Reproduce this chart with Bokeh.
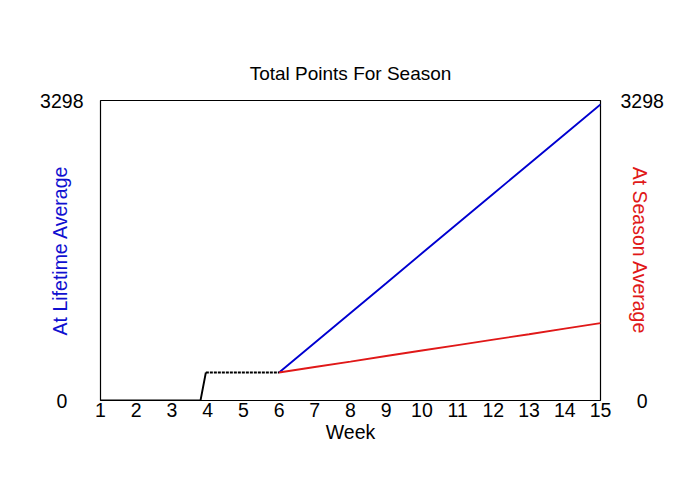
from bokeh.plotting import figure
from bokeh.models import LinearAxis, FixedTicker, Range1d
from bokeh.embed import file_html
from bokeh.resources import INLINE

# Data
actual_weeks = [1, 2, 3, 3.8, 3.95]
actual_points = [0, 0, 0, 0, 308]
flat_weeks = [3.95, 4, 5, 6]
flat_points = [308, 308, 308, 308]
proj_weeks = [6, 7, 8, 9, 10, 11, 12, 13, 14, 15]
lifetime_avg = [308, 635, 963, 1290, 1618, 1945, 2273, 2600, 2927, 3255]
season_avg = [308, 368, 428, 489, 549, 609, 669, 729, 790, 850]
y_max = 3298
x_ticks = list(range(1, 16))
y_ticks = [0, 3298]
y_tick_labels = ["0", "3298"]

FONT = "Liberation Sans"

p = figure(output_backend="svg", toolbar_location=None,
           frame_width=500, frame_height=300,
           min_border_left=100, min_border_right=100,
           min_border_top=100, min_border_bottom=100,
           x_range=Range1d(1, 15), y_range=Range1d(0, y_max),
           title="Total Points For Season")
p.background_fill_color = "white"
p.border_fill_color = "white"
p.outline_line_color = "black"
p.outline_line_width = 1.2
p.grid.visible = False

p.title.text_font = FONT
p.title.text_font_size = "19px"
p.title.text_font_style = "normal"
p.title.text_color = "black"
p.title.align = "center"
p.title.standoff = 33

# lines
p.line(proj_weeks, lifetime_avg, line_color="#0000d0", line_width=1.9)
p.line(proj_weeks, season_avg, line_color="#e01818", line_width=1.9)
p.line(actual_weeks, actual_points, line_color="black", line_width=1.9)
p.line(flat_weeks, flat_points, line_color="black", line_width=1.9, line_dash="3 1")

def style_axis(ax):
    ax.major_tick_in = 0
    ax.major_tick_out = 0
    ax.minor_tick_in = 0
    ax.minor_tick_out = 0
    ax.axis_line_color = None
    ax.major_label_text_font = FONT
    ax.major_label_text_font_size = "19.5px"
    ax.major_label_text_color = "black"
    ax.axis_label_text_font = FONT
    ax.axis_label_text_font_size = "19.5px"
    ax.axis_label_text_font_style = "normal"
    ax.axis_label_text_color = "black"

xa = p.xaxis[0]
style_axis(xa)
xa.ticker = FixedTicker(ticks=x_ticks)
xa.axis_label = "Week"
xa.major_label_standoff = 2
xa.axis_label_standoff = 1

# centre the short "0" under the wider "3298" with digit-width spaces
ya = p.yaxis[0]
style_axis(ya)
ya.ticker = FixedTicker(ticks=y_ticks)
ya.major_label_overrides = {0: y_tick_labels[0] + "\u2007\u2008", 3298: y_tick_labels[1]}
ya.axis_label = "At Lifetime Average"
ya.axis_label_text_color = "#1010d0"
ya.major_label_standoff = 17
ya.axis_label_standoff = -34

ra = LinearAxis(ticker=FixedTicker(ticks=y_ticks))
style_axis(ra)
ra.major_label_overrides = {0: "\u2008\u2007" + y_tick_labels[0], 3298: y_tick_labels[1]}
ra.axis_label = "At Season Average"
ra.axis_label_text_color = "#e01818"
ra.major_label_standoff = 20
ra.axis_label_standoff = -38
p.add_layout(ra, "right")

open("out.html", "w").write(file_html(p, INLINE))
